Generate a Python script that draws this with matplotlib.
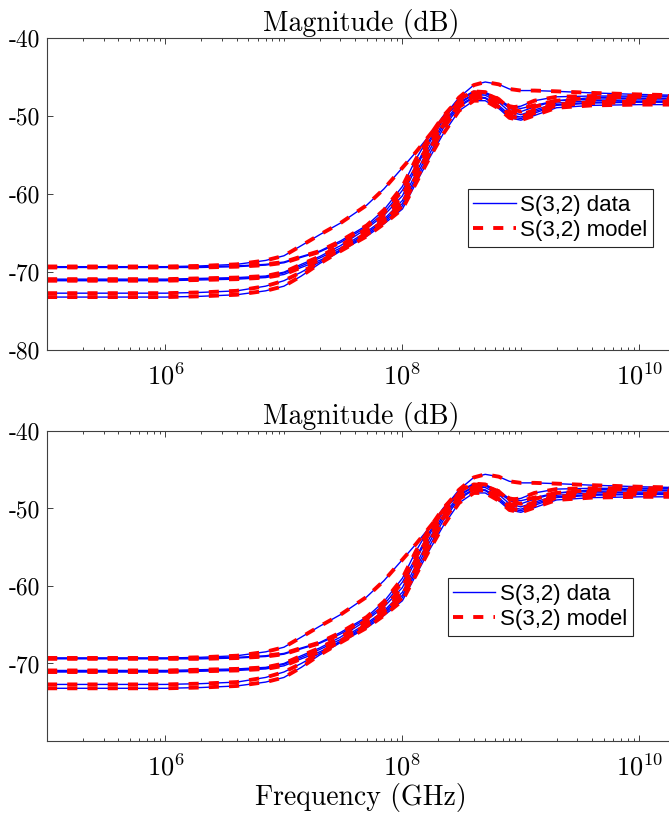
import numpy as np
import matplotlib
matplotlib.use("Agg")
from matplotlib import pyplot as plt
from matplotlib.ticker import LogLocator, NullFormatter

plt.rcParams['font.family'] = 'cmr10'
plt.rcParams['mathtext.fontset'] = 'cm'
plt.rcParams['axes.unicode_minus'] = False
plt.rcParams['axes.formatter.use_mathtext'] = True

# frequency points
freq = [1e5, 1e6, 2e6, 4e6, 7e6, 1e7, 1.4e7, 2e7, 3e7, 5e7, 7e7, 1e8, 1.3e8, 1.7e8, 2.2e8,
        3e8, 4e8, 5e8, 6.5e8, 8e8, 1e9, 1.3e9, 2e9, 4e9, 1e10, 2e10]

# S(3,2) magnitude in dB, one list per curve
s32_a = [-69.3, -69.3, -69.2, -69.0, -68.5, -67.9, -66.6, -65.2, -63.7, -61.4, -59.3, -56.6, -54.6,
         -52.4, -50.3, -48.2, -47.2, -47.1, -47.8, -48.7, -49.0, -48.6, -48.0, -47.8, -47.7, -47.7]
s32_b = [-69.4, -69.4, -69.4, -69.3, -69.1, -68.8, -68.1, -67.4, -66.2, -64.2, -62.4, -59.5, -56.3,
         -53.0, -50.2, -47.6, -46.0, -45.6, -45.9, -46.5, -46.7, -46.7, -46.8, -47.0, -47.2, -47.3]
s32_c = [-69.3, -69.3, -69.3, -69.2, -69.0, -68.7, -68.0, -67.3, -66.0, -64.0, -62.0, -59.0, -55.5,
         -52.5, -50.0, -47.8, -46.8, -46.9, -47.8, -49.0, -49.4, -48.8, -48.0, -47.6, -47.5, -47.5]
s32_d = [-71.0, -71.0, -70.9, -70.8, -70.6, -70.1, -69.2, -68.2, -66.9, -64.8, -63.2, -60.8, -57.3,
         -53.8, -50.9, -48.4, -47.2, -47.3, -48.2, -49.4, -49.8, -49.2, -48.3, -48.0, -47.9, -47.9]
s32_e = [-70.9, -70.9, -70.8, -70.7, -70.5, -70.0, -69.0, -68.0, -66.6, -64.4, -62.7, -60.2, -56.6,
         -53.3, -50.5, -48.0, -46.9, -47.0, -48.0, -48.9, -48.7, -48.0, -47.5, -47.4, -47.4, -47.4]
s32_f = [-71.1, -71.1, -71.0, -70.9, -70.7, -70.3, -69.4, -68.5, -67.2, -65.2, -63.6, -61.5, -58.2,
         -54.8, -51.6, -48.8, -47.6, -47.7, -48.8, -50.0, -50.3, -49.6, -48.6, -48.3, -48.2, -48.2]
s32_g = [-72.7, -72.7, -72.6, -72.4, -71.8, -71.1, -70.0, -68.7, -67.1, -65.0, -63.4, -61.2, -57.8,
         -54.3, -51.2, -48.6, -47.5, -47.6, -48.6, -49.8, -50.1, -49.4, -48.5, -48.2, -48.1, -48.1]
s32_h = [-73.2, -73.2, -73.1, -72.9, -72.4, -71.8, -70.5, -68.9, -67.3, -65.4, -63.8, -61.9, -58.6,
         -55.3, -52.3, -49.3, -48.0, -48.0, -49.0, -50.2, -50.5, -49.9, -48.9, -48.6, -48.5, -48.5]

data_curves = [s32_a, s32_b, s32_c, s32_d, s32_e, s32_f, s32_g, s32_h]
model_curves = [s32_a, s32_b, s32_c, s32_d, s32_e, s32_f, s32_g, s32_h]

xticks = [1e6, 1e8, 1e10]
xticklabels = ['$10^{6}$', '$10^{8}$', '$10^{10}$']

fig = plt.figure(figsize=(6.69, 8.16), dpi=100)
ax1 = fig.add_axes([0.0703, 0.571, 0.9387, 0.382])
ax2 = fig.add_axes([0.0703, 0.0919, 0.9387, 0.380])


def draw(ax, yticks, leg_anchor):
    for y in data_curves:
        ax.plot(freq, y, color='#0000ff', lw=1.0)
    for y in model_curves:
        ax.plot(freq, y, color='#ff0000', lw=2.8, ls=(0, (2.6, 2.6)))
    ax.set_xscale('log')
    ax.set_xlim(1e5, 2e10)
    ax.set_ylim(-80, -40)
    ax.set_xticks(xticks)
    ax.set_xticklabels(xticklabels)
    ax.xaxis.set_minor_locator(LogLocator(base=10, subs=np.arange(1, 10), numticks=50))
    ax.xaxis.set_minor_formatter(NullFormatter())
    ax.set_yticks(yticks)
    ax.set_yticklabels([str(v) for v in yticks])
    for s in ax.spines.values():
        s.set_color('#404040')
        s.set_linewidth(0.8)
    ax.tick_params(which='both', direction='in', top=True, right=True, color='#404040',
                   labelsize=17, width=0.7)
    ax.tick_params(which='major', length=4)
    ax.tick_params(which='minor', length=2.3)
    ax.tick_params(axis='x', pad=9, labelsize=19)
    ax.tick_params(axis='y', pad=5)
    ax.set_title('Magnitude (dB)', fontsize=20, pad=4)
    h1, = ax.plot([], [], color='#0000ff', lw=1.0)
    h2, = ax.plot([], [], color='#ff0000', lw=2.8, ls=(0, (2.6, 2.6)))
    leg = ax.legend([h1, h2], ['S(3,2) data', 'S(3,2) model'], loc='upper left',
                    bbox_to_anchor=leg_anchor, borderaxespad=0, fancybox=False,
                    framealpha=1, edgecolor='#262626',
                    prop={'family': 'Liberation Sans', 'size': 16},
                    handlelength=1.9, handletextpad=0.2, labelspacing=0.2,
                    borderpad=0.25)
    leg.get_frame().set_linewidth(0.8)


draw(ax1, [-80, -70, -60, -50, -40], (0.670, 0.516))
draw(ax2, [-70, -60, -50, -40], (0.638, 0.525))
ax2.set_xlabel('Frequency (GHz)', fontsize=20, labelpad=2)

plt.savefig('out.png', dpi=100)
